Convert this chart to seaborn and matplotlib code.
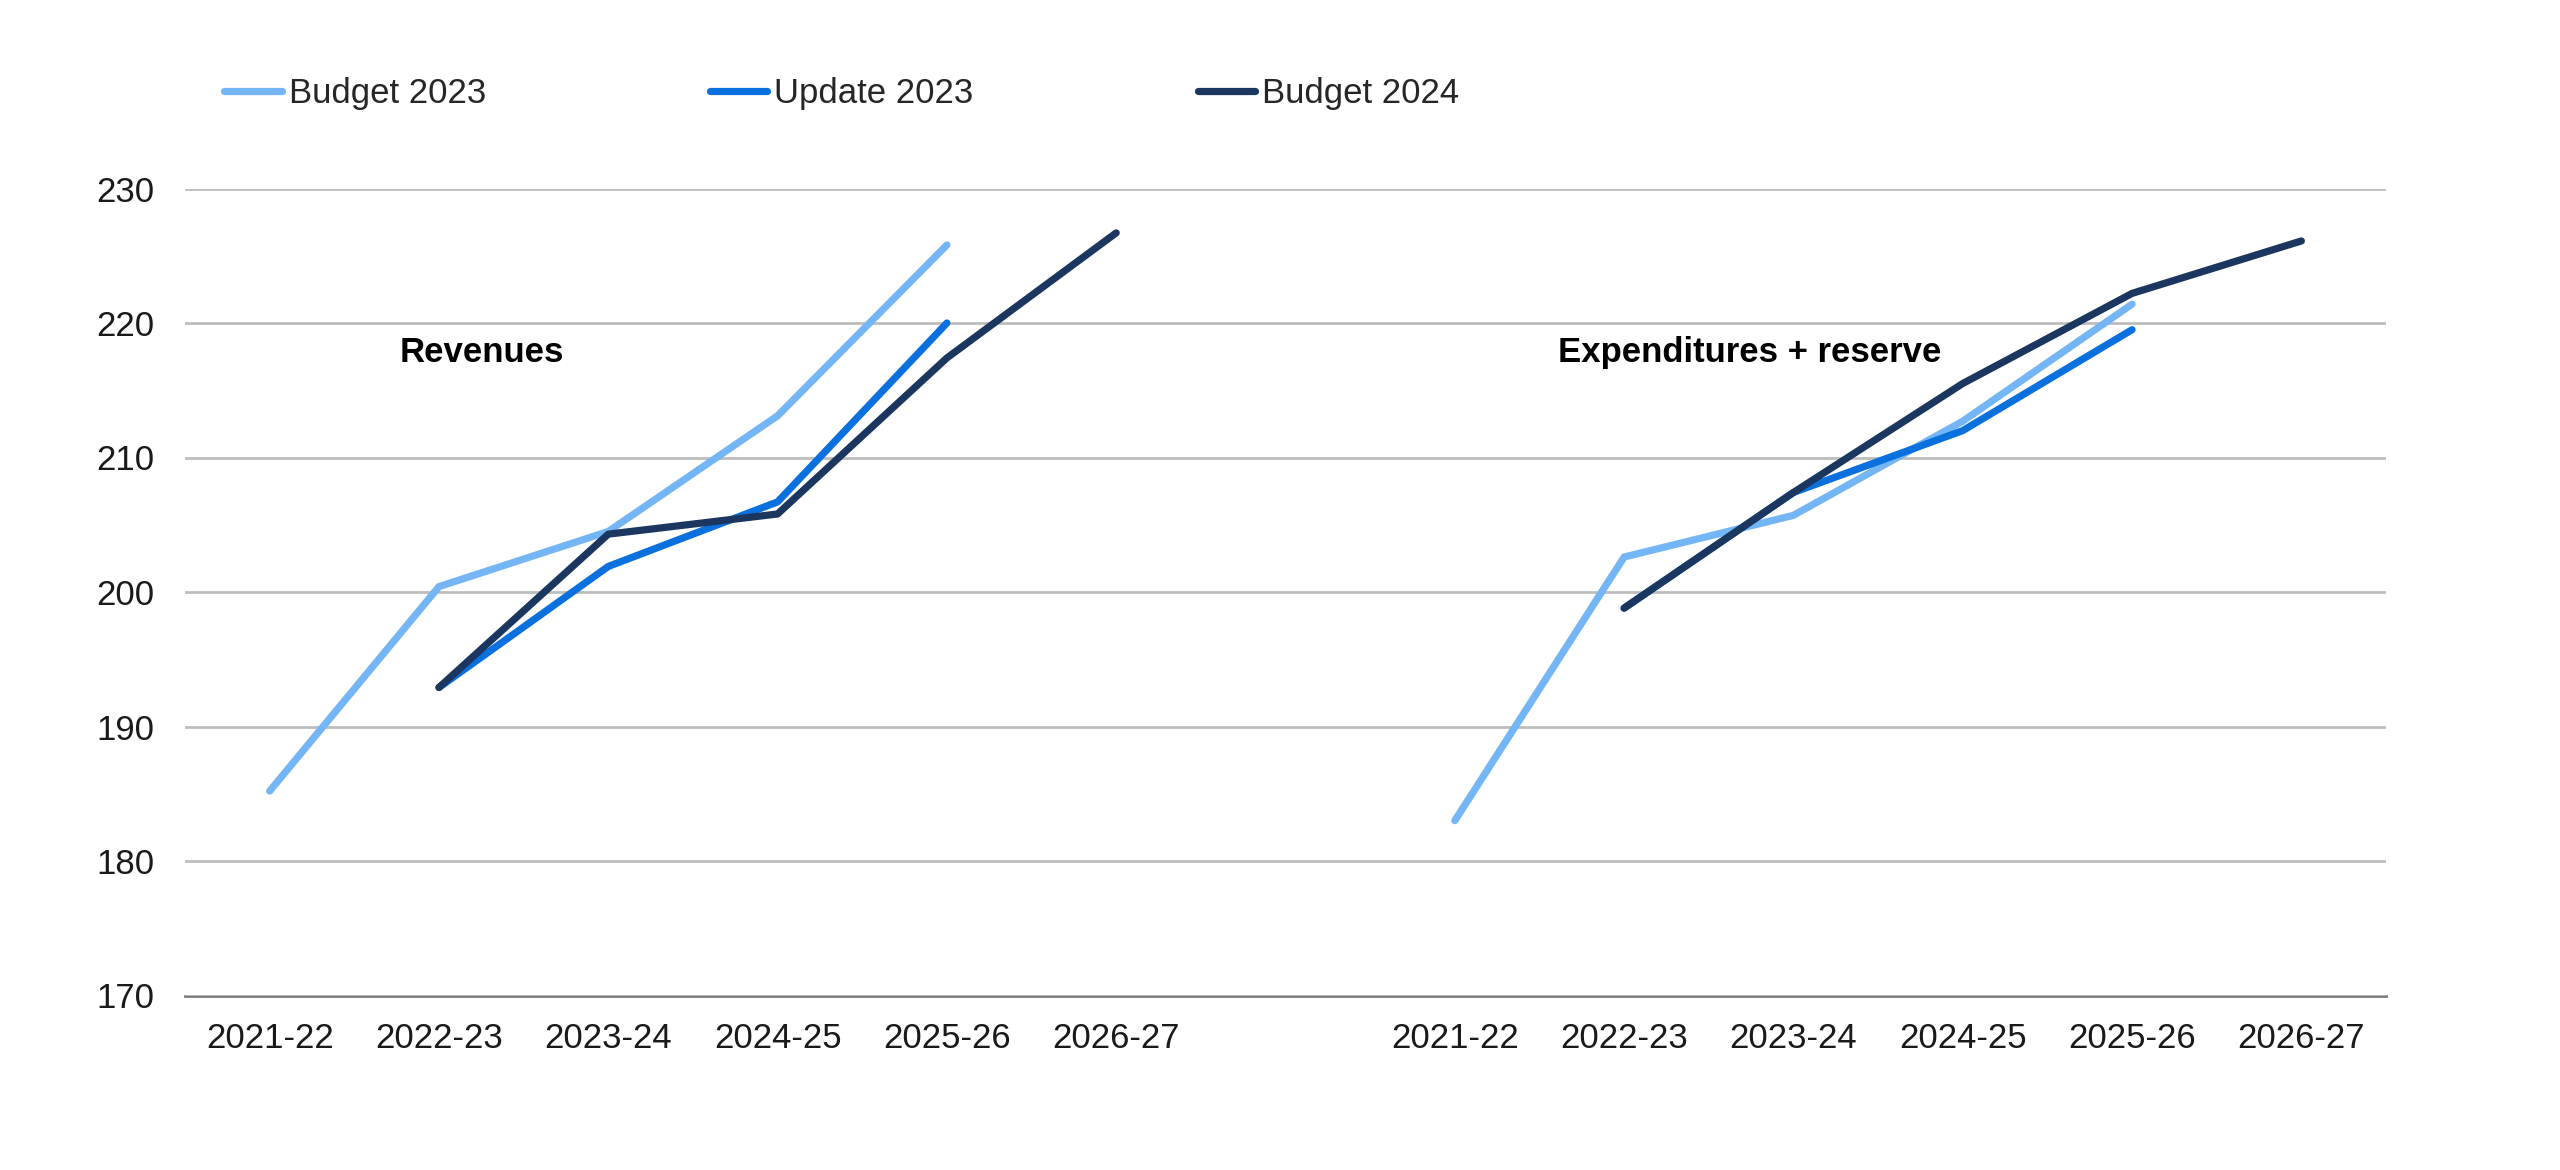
import numpy as np
import pandas as pd
import matplotlib
matplotlib.use("Agg")
import matplotlib.pyplot as plt
from matplotlib.lines import Line2D
import seaborn as sns

# ---- data ----
periods = ["2021-22", "2022-23", "2023-24", "2024-25", "2025-26", "2026-27"]
series_names = ["Budget 2023", "Update 2023", "Budget 2024"]
panel_names = ["Revenues", "Expenditures + reserve"]

nan = np.nan
rev_budget2023 = [185.2, 200.4, 204.5, 213.1, 225.8, nan]
rev_update2023 = [nan, 192.9, 201.9, 206.7, 220.0, nan]
rev_budget2024 = [nan, 192.9, 204.3, 205.8, 217.4, 226.7]

exp_budget2023 = [183.0, 202.6, 205.7, 212.7, 221.4, nan]
exp_update2023 = [nan, 198.8, 207.4, 212.0, 219.5, nan]
exp_budget2024 = [nan, 198.8, 207.4, 215.5, 222.2, 226.1]

yticks = [170, 180, 190, 200, 210, 220, 230]
colors = ["#74B6F5", "#0A70DE", "#1B365F"]

# ---- long table ----
panel_values = {
    "Revenues": [rev_budget2023, rev_update2023, rev_budget2024],
    "Expenditures + reserve": [exp_budget2023, exp_update2023, exp_budget2024],
}
rows = []
for p_idx, panel in enumerate(panel_names):
    for s_name, vals in zip(series_names, panel_values[panel]):
        for i, (per, v) in enumerate(zip(periods, vals)):
            rows.append({"panel": panel, "series": s_name, "period": per,
                         "pos": p_idx * (len(periods) + 1) + i, "value": v})
df = pd.DataFrame(rows).dropna()

# ---- plot ----
sns.set_theme(style="white")
plt.rcParams["font.family"] = ["Liberation Sans", "DejaVu Sans"]

fig = plt.figure(figsize=(25.6, 11.7), dpi=100)
ax = fig.add_axes([185 / 2560, 1 - 995.5 / 1170, (2386 - 185) / 2560, (995.5 - 188.5) / 1170])

sns.lineplot(data=df, x="pos", y="value", hue="series", hue_order=series_names,
             palette=colors, units="panel", estimator=None, sort=True,
             linewidth=5.2, legend=False, ax=ax, solid_capstyle="round")

n_slots = 2 * len(periods) + 1
ax.set_xlim(-0.5, n_slots - 0.5)
ax.set_ylim(yticks[0], yticks[-1])
tick_pos = list(range(len(periods))) + [len(periods) + 1 + i for i in range(len(periods))]
ax.set_xticks(tick_pos)
ax.set_xticklabels(periods * 2)
ax.set_yticks(yticks)
ax.set_xlabel("")
ax.set_ylabel("")
ax.tick_params(axis="both", length=0, labelsize=25, colors="#1a1a1a")
ax.tick_params(axis="x", pad=19)
ax.tick_params(axis="y", pad=22)

ax.grid(axis="y", color="#bdbdbd", linewidth=2.0)
ax.grid(axis="x", visible=False)
ax.set_axisbelow(True)
for side in ["top", "right", "left"]:
    ax.spines[side].set_visible(False)
ax.spines["bottom"].set_color("#7a7a7a")
ax.spines["bottom"].set_linewidth(2.0)
ax.spines["bottom"].set_zorder(0.5)

# panel titles
ax.text(0.77, 217.8, panel_names[0], fontsize=25, fontweight="bold", va="center", ha="left", color="#000000")
ax.text(7.61, 217.8, panel_names[1], fontsize=25, fontweight="bold", va="center", ha="left", color="#000000")

# legend
handles = [Line2D([0], [0], color=c, linewidth=5.2) for c in colors]
fig.legend(handles, series_names, loc="center left", bbox_to_anchor=(224 / 2560, 1 - 94 / 1170),
           ncol=3, frameon=False, fontsize=25, handlelength=1.66, handletextpad=0.2,
           columnspacing=6.45, borderpad=0, borderaxespad=0)

fig.savefig("out.png", dpi=100, facecolor="white")
